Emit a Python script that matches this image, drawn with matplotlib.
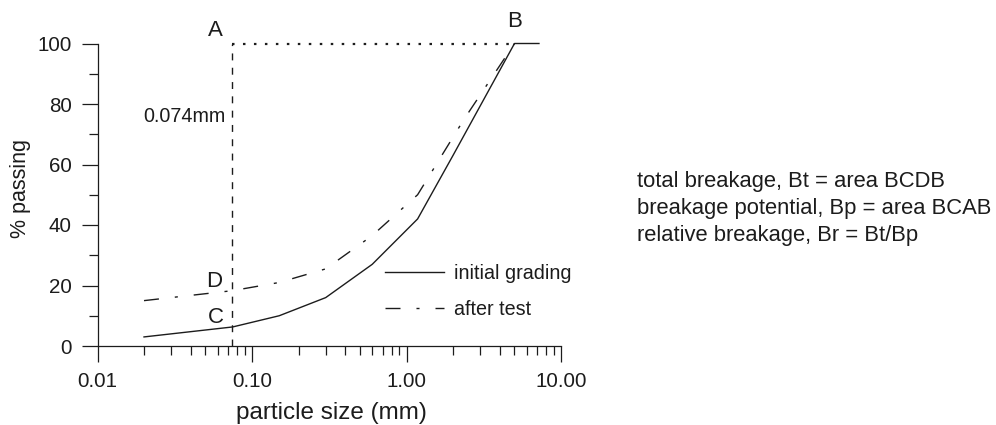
import matplotlib
matplotlib.use("Agg")
import matplotlib.pyplot as plt
from matplotlib.ticker import FixedLocator, NullFormatter

plt.rcParams['font.family'] = ['Liberation Sans', 'DejaVu Sans']
plt.rcParams['lines.scale_dashes'] = False

# ---- data ----
size_initial = [0.02, 0.075, 0.15, 0.3, 0.6, 1.18, 2.0, 5.0, 7.2]
pass_initial = [3, 6.3, 10, 16, 27, 42, 63, 100, 100]
size_after = [0.02, 0.075, 0.15, 0.3, 0.6, 1.18, 2.36, 5.0]
pass_after = [15, 18.3, 21, 25.5, 36.5, 50, 75, 100]
d_line = 0.074      # reference size (mm)
b_size = 5.0        # point B
x_major = [0.01, 0.1, 1, 10]
x_major_labels = ["0.01", "0.10", "1.00", "10.00"]
y_major = [0, 20, 40, 60, 80, 100]
y_minor = [10, 30, 50, 70, 90]
series_labels = ["initial grading", "after test"]
notes = ["total breakage, Bt = area BCDB",
         "breakage potential, Bp = area BCAB",
         "relative breakage, Br = Bt/Bp"]

ink = "#1c1c1c"
W, H = 996, 425
fig = plt.figure(figsize=(W / 100, H / 100), dpi=100)
x0, x1, y0, y1 = 97.5, 561, 346, 43.5
ax = fig.add_axes([x0 / W, 1 - y0 / H, (x1 - x0) / W, (y0 - y1) / H])

ax.set_xscale('log')
ax.set_xlim(0.01, 10)
ax.set_ylim(0, 100)

# curves
ax.plot(size_initial, pass_initial, color=ink, lw=1.0, label=series_labels[0], clip_on=False)
ax.plot(size_after, pass_after, color=ink, lw=1.0, label=series_labels[1],
        linestyle=(0, (10.8, 11.5, 2.2, 11.5)), clip_on=False)

# reference lines
ax.plot([d_line, d_line], [0, 100], color=ink, lw=1.0, linestyle=(0, (5.0, 5.3)), clip_on=False)
ax.plot([d_line, b_size], [100, 100], color=ink, lw=1.6, linestyle=(0, (1.8, 6.1)),
        dash_capstyle='butt', clip_on=False)

# point labels
def pt_label(txt, x, y, dx, dy):
    ax.annotate(txt, xy=(x, y), xytext=(dx, dy), textcoords='offset points',
                ha='center', va='center', fontsize=16, color=ink, annotation_clip=False)

pt_label("A", d_line, 100, -12, 9.5)
pt_label("B", b_size, 100, 0, 16)
pt_label("C", d_line, pass_initial[1], -11.5, 6.5)
pt_label("D", d_line, pass_after[1], -13, 6.5)

ax.annotate("0.074mm", xy=(d_line, 76), xytext=(-4.5, 0), textcoords='offset points',
            ha='right', va='center', fontsize=14.2, color=ink)

# spines & ticks
for s in ['top', 'right']:
    ax.spines[s].set_visible(False)
for s in ['left', 'bottom']:
    ax.spines[s].set_color(ink)
    ax.spines[s].set_linewidth(0.9)

ax.xaxis.set_major_locator(FixedLocator(x_major))
ax.set_xticklabels(x_major_labels)
minors = [m * 10.0 ** e for e in (-2, -1, 0) for m in range(2, 10)]
ax.xaxis.set_minor_locator(FixedLocator(minors))
ax.xaxis.set_minor_formatter(NullFormatter())
ax.yaxis.set_major_locator(FixedLocator(y_major))
ax.yaxis.set_minor_locator(FixedLocator(y_minor))
ax.tick_params(which='major', length=11.5, width=0.9, color=ink, labelsize=14.8,
               labelcolor=ink)
ax.tick_params(which='minor', length=6.2, width=0.9, color=ink)
ax.tick_params(axis='x', which='major', pad=7)
ax.tick_params(axis='y', which='major', pad=7)

fig.text(21 / W, 1 - 188 / H, "% passing", rotation=90, ha='center', va='center',
         fontsize=15.5, color=ink)
fig.text(331 / W, 1 - 413 / H, "particle size (mm)", ha='center', va='center',
         fontsize=17.5, color=ink)

leg = ax.legend(loc='upper left', bbox_to_anchor=(385 / W, 1 - 264 / H),
                bbox_transform=fig.transFigure, frameon=False, fontsize=14.2,
                handlelength=3.0, handletextpad=0.5, labelspacing=0.85,
                borderpad=0, borderaxespad=0)
for t in leg.get_texts():
    t.set_color(ink)

for i, line in enumerate(notes):
    fig.text(637 / W, 1 - (187 + 27 * i) / H, line, ha='left', va='baseline',
             fontsize=15.8, color=ink)

fig.savefig("out.png", dpi=100)
